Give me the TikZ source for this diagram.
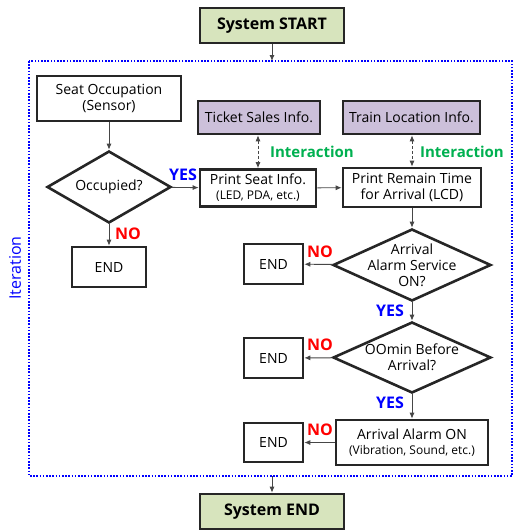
\documentclass[tikz,border=0pt]{standalone}
\usepackage{fontspec}
\setmainfont{Open Sans}
\usetikzlibrary{arrows.meta,shapes.geometric}

\definecolor{startgreen}{RGB}{215,228,189}
\definecolor{infopurple}{RGB}{204,192,218}
\definecolor{talkgreen}{RGB}{0,176,80}
\definecolor{linegray}{RGB}{70,70,70}

\begin{document}
\begin{tikzpicture}[x=1pt, y=-1pt,
    box/.style={draw=black!85, line width=2.6pt, fill=white, align=center,
      inner sep=0pt, font=\fontsize{14}{16}\selectfont},
    sysbox/.style={box, fill=startgreen, minimum width=144, minimum height=35,
      font=\fontsize{16}{18}\selectfont\bfseries},
    infobox/.style={box, fill=infopurple, minimum height=33},
    endbox/.style={box, minimum height=40},
    decision/.style={diamond, draw=black!85, line width=2.6pt, align=center,
      aspect=2.2, inner xsep=-22pt, inner ysep=0pt,
      font=\fontsize{14}{16}\selectfont},
    flow/.style={draw=linegray, line width=0.9pt, -{Latex[length=6pt,width=5pt]}},
    talk/.style={draw=linegray, line width=0.9pt, densely dashed,
      {Latex[length=6pt,width=5pt]}-{Latex[length=6pt,width=5pt]}},
    yes/.style={text=blue, font=\fontsize{16}{18}\selectfont\bfseries},
    no/.style={text=red, font=\fontsize{16}{18}\selectfont\bfseries}]

  %--- page frame
  \useasboundingbox (0,0) rectangle (514,531);

  %--- parameters
  \def\xl{29}     % left edge of iteration loop
  \def\xr{512}    % right edge of iteration loop
  \def\yt{61}     % top edge of iteration loop
  \def\yb{476}    % bottom edge of iteration loop

  %--- iteration loop
  \draw[blue, line width=2.2pt, dash pattern=on 1.6pt off 1.6pt]
    (\xl,\yt) rectangle (\xr,\yb);
  \node[blue, rotate=90, font=\fontsize{16}{18}\selectfont] (iter) at (15,268) {Iteration};
  \coordinate (looptop) at (272,\yt);
  \coordinate (loopbot) at (272,\yb);

  %--- system start / end
  \node[sysbox] (start) at (272,25.5) {System START};
  \node[sysbox] (stop) at (272,511.5) {System END};

  %--- seat branch
  \node[box, minimum width=144, minimum height=45] (seat) at (109,98.5)
    {Seat Occupation\\(Sensor)};
  \node[decision, minimum width=124, minimum height=72] (occ) at (109,187) {Occupied?};
  \node[endbox, minimum width=74] (end1) at (109,267) {END};

  %--- info sources
  \node[infobox, minimum width=122] (ticket) at (259,117.5) {Ticket Sales Info.};
  \node[infobox, minimum width=137] (train) at (411.5,117.5) {Train Location Info.};

  %--- printing
  \node[box, minimum width=116, minimum height=37] (pseat) at (258,188)
    {Print Seat Info.\\[-1pt]{\fontsize{12}{14}\selectfont(LED, PDA, etc.)}};
  \node[box, minimum width=138, minimum height=39] (premain) at (412,187.5)
    {Print Remain Time\\for Arrival (LCD)};

  %--- alarm branch
  \node[decision, minimum width=158, minimum height=72] (alarmq) at (412,265)
    {Arrival\\Alarm Service\\ON?};
  \node[endbox, minimum width=59] (end2) at (273.5,264) {END};
  \node[decision, minimum width=158, minimum height=71] (minq) at (412,357.5)
    {OOmin Before\\Arrival?};
  \node[endbox, minimum width=59] (end3) at (273.5,358) {END};
  \node[box, minimum width=152, minimum height=45] (alarmon) at (412,442.5)
    {Arrival Alarm ON\\[-1pt]{\fontsize{12}{14}\selectfont(Vibration, Sound, etc.)}};
  \node[endbox, minimum width=59, minimum height=39] (end4) at (273.5,442.5) {END};

  %--- connectors
  \draw[flow] (start) -- (looptop);
  \draw[flow] (loopbot) -- (stop);
  \draw[flow] (seat) -- (occ);
  \draw[flow] (occ) -- (pseat);
  \draw[flow] (occ) -- (end1);
  \draw[flow] (pseat) -- (premain);
  \draw[flow] (premain) -- (alarmq);
  \draw[flow] (alarmq) -- (end2);
  \draw[flow] (alarmq) -- (minq);
  \draw[flow] (minq) -- (end3);
  \draw[flow] (minq) -- (alarmon);
  \draw[flow] (alarmon) -- (end4);
  \draw[talk] (ticket.south -| pseat.north) -- (pseat.north);
  \draw[talk] (train.south -| premain.north) -- (premain.north);

  %--- labels
  \node[yes] (yes1) at (183,175) {YES};
  \node[no] (no1) at (128,234) {NO};
  \node[no] (no2) at (320,252) {NO};
  \node[yes] (yes2) at (390,311) {YES};
  \node[no] (no3) at (320,345) {NO};
  \node[yes] (yes3) at (390,403) {YES};
  \node[no] (no4) at (320,430) {NO};
  \node[text=talkgreen, font=\fontsize{15}{17}\selectfont\bfseries] (talk1) at (312,152) {Interaction};
  \node[text=talkgreen, font=\fontsize{15}{17}\selectfont\bfseries] (talk2) at (462,152) {Interaction};

\end{tikzpicture}
\end{document}
